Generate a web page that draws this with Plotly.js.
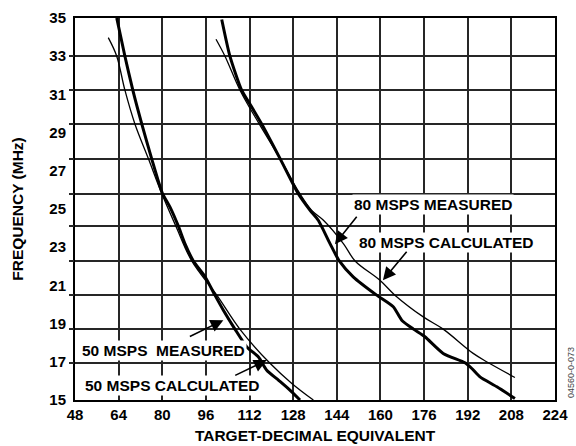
<!DOCTYPE html>
<html>
<head>
<meta charset="utf-8">
<script src="https://cdn.plot.ly/plotly-3.0.1.min.js"></script>
<style>html,body{margin:0;padding:0;background:#fff;}#chart{width:576px;height:446px;}</style>
</head>
<body>
<div id="chart"></div>
<script>
// ---- data ----
const xTicks = [48, 64, 80, 96, 112, 128, 144, 160, 176, 192, 208, 224];
const yTicks = [15, 17, 19, 21, 23, 25, 27, 29, 31, 33, 35];
// horizontal grid rules of the original drawing (11 divisions, not aligned to the labels)
const gridY = [16.92, 18.71, 20.49, 22.27, 24.10, 25.81, 27.64, 29.44, 31.22, 33.0];

const meas50X = [63.3, 66.3, 69.2, 72.5, 76.1, 80.0, 82.8, 85.9, 88.3, 91.4, 95.7, 99.3, 102.4, 106.7, 111.0, 115.2, 118.3, 122.6, 126.8, 130.5];
const meas50Y = [35.0, 33.0, 31.22, 29.44, 27.64, 25.84, 25.11, 24.1, 23.19, 22.28, 21.45, 20.49, 19.70, 18.70, 17.78, 17.26, 16.56, 16.04, 15.52, 15.0];

const calc50X = [60.2, 63.3, 66.3, 70.0, 74.9, 79.8, 85.0, 90.8, 100.0, 108.5, 119.5, 127.5, 135.4];
const calc50Y = [33.97, 33.0, 31.22, 29.44, 27.64, 25.81, 24.1, 22.28, 20.49, 18.70, 16.92, 15.87, 15.0];

const meas80X = [101.8, 104.8, 109.1, 112.8, 116.5, 123.2, 129.7, 134.2, 137.2, 141.5, 144.9, 150.0, 158.6, 164.7, 167.8, 172.1, 176.3, 183.0, 191.0, 193.5, 196.5, 202.7, 209.3];
const meas80Y = [34.92, 33.0, 31.22, 30.34, 29.44, 27.64, 25.84, 24.93, 24.41, 23.19, 22.28, 21.45, 20.49, 19.88, 19.18, 18.71, 18.31, 17.44, 16.95, 16.65, 16.21, 15.69, 15.08];

const calc80X = [99.7, 103.0, 108.5, 115.6, 123.2, 130.3, 134.8, 139.1, 146.4, 150.7, 159.8, 165.3, 175.7, 183.0, 194.0, 199.6, 209.3];
const calc80Y = [33.89, 33.0, 31.22, 29.44, 27.64, 25.84, 24.93, 24.41, 23.19, 22.28, 21.27, 20.49, 19.35, 18.71, 17.44, 16.95, 16.18];

const labels = ["80 MSPS MEASURED", "80 MSPS CALCULATED", "50 MSPS\u00a0 MEASURED", "50 MSPS CALCULATED"];

// ---- chart ----
const FONT = "'Liberation Sans', Arial, Helvetica, sans-serif";
const thick = {color: '#000', width: 3, shape: 'spline', smoothing: 0.6};
const thin = {color: '#000', width: 1.3, shape: 'spline', smoothing: 1};

const traces = [
  {x: meas50X, y: meas50Y, mode: 'lines', line: thick, yaxis: 'y2', name: labels[2], hoverinfo: 'x+y'},
  {x: calc50X, y: calc50Y, mode: 'lines', line: thin, yaxis: 'y2', name: labels[3], hoverinfo: 'x+y'},
  {x: meas80X, y: meas80Y, mode: 'lines', line: thick, yaxis: 'y2', name: labels[0], hoverinfo: 'x+y'},
  {x: calc80X, y: calc80Y, mode: 'lines', line: thin, yaxis: 'y2', name: labels[1], hoverinfo: 'x+y'}
];

const txtFont = {family: FONT, size: 15.5, color: '#000', weight: 700};
function textAnn(t, x, y) {
  return {text: t, x: x, y: y, xref: 'x', yref: 'y', showarrow: false, font: txtFont,
          bgcolor: '#fff', borderpad: 1, xanchor: 'center', yanchor: 'middle'};
}
function arrowAnn(x, y, ax, ay) {
  return {text: '', x: x, y: y, xref: 'x', yref: 'y', showarrow: true, ax: ax, ay: ay,
          arrowhead: 2, arrowsize: 1.6, arrowwidth: 1.6, arrowcolor: '#000', standoff: 0};
}

const GRID = '#262626';
const layout = {
  width: 576, height: 446,
  margin: {l: 75, r: 21, t: 18, b: 46},
  paper_bgcolor: '#fff', plot_bgcolor: '#fff',
  showlegend: false,
  font: {family: FONT, color: '#000'},
  xaxis: {
    range: [48, 224], tickvals: xTicks, ticks: '', showgrid: true, gridcolor: GRID, gridwidth: 2,
    zeroline: false, showline: true, mirror: true, linecolor: '#000', linewidth: 2,
    tickfont: {family: FONT, size: 15, color: '#000', weight: 700}, ticklabelstandoff: 0,
    title: {text: 'TARGET-DECIMAL EQUIVALENT', font: {family: FONT, size: 15.5, color: '#000', weight: 700}, standoff: 8}
  },
  yaxis: {
    range: [15, 35], tickvals: yTicks, ticks: '', showgrid: false,
    zeroline: false, showline: true, mirror: true, linecolor: '#000', linewidth: 2,
    tickfont: {family: FONT, size: 15, color: '#000', weight: 700}, ticklabelstandoff: 4,
    title: {text: 'FREQUENCY (MHz)', font: {family: FONT, size: 15.5, color: '#000', weight: 700}, standoff: 22}
  },
  yaxis2: {
    overlaying: 'y', side: 'left', range: [15, 35], tickvals: gridY, showticklabels: false,
    ticks: 'outside', ticklen: 5, tickwidth: 2, tickcolor: GRID,
    showgrid: true, gridcolor: GRID, gridwidth: 2, zeroline: false, showline: false
  },
  annotations: [
    textAnn(labels[0], 179.1, 25.25),
    textAnn(labels[1], 184.3, 23.23),
    textAnn(labels[2], 80.6, 17.61),
    textAnn(labels[3], 83.9, 15.74),
    arrowAnn(143.3, 23.16, 23, -29),
    arrowAnn(160.9, 21.27, 25, -30),
    arrowAnn(102.4, 19.18, -35, 17),
    arrowAnn(118.3, 17.09, -33, 16),
    {text: '04560-0-073', xref: 'paper', yref: 'paper', x: 1.033, y: 0.073, showarrow: false,
     textangle: -90, font: {family: FONT, size: 9, color: '#444'}, xanchor: 'center', yanchor: 'middle'}
  ]
};

Plotly.newPlot('chart', traces, layout, {staticPlot: true, displayModeBar: false});
</script>
</body>
</html>
